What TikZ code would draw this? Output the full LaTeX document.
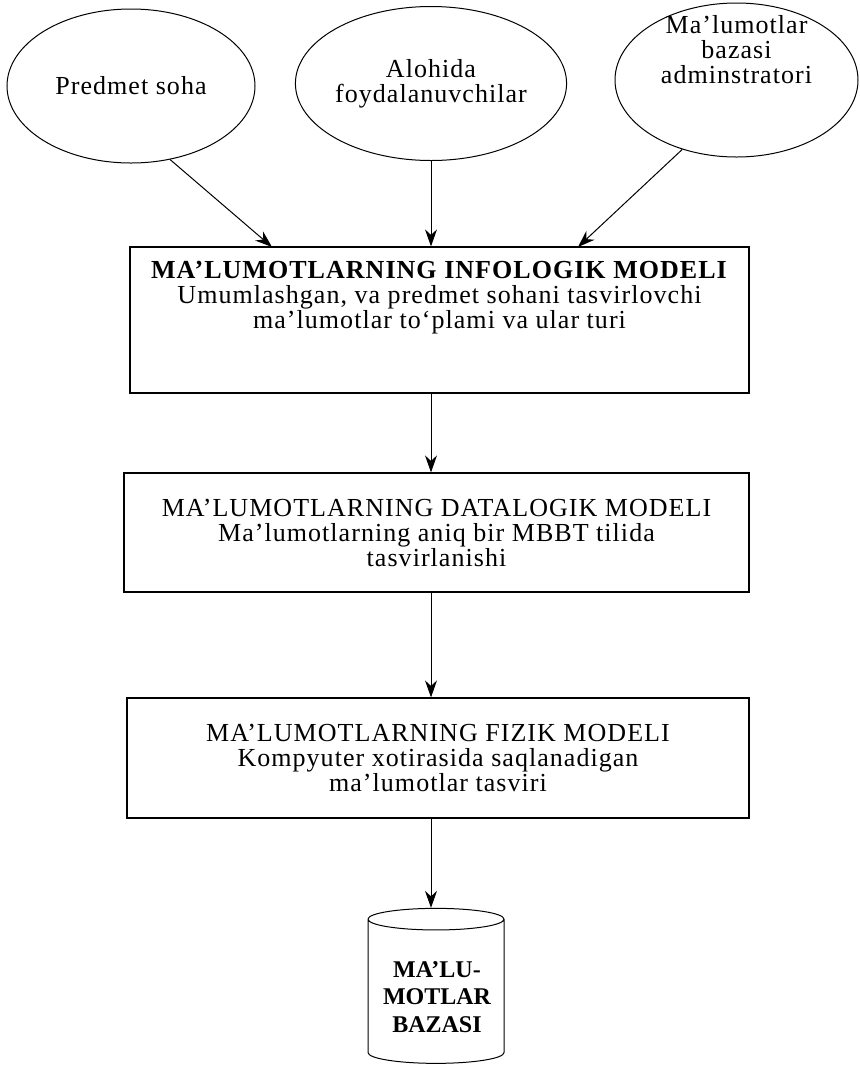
\documentclass[tikz,border=0pt]{standalone}
\usepackage{fontspec}
\setmainfont{Liberation Serif}[LetterSpace=4]
\newfontfamily\dbfont{Liberation Serif}
\usepackage{tikz}
\usetikzlibrary{arrows.meta}
\usetikzlibrary{shapes.geometric}

\begin{document}
\begin{tikzpicture}[x=0.5pt,y=-0.5pt,
	font=\fontsize{13}{12.5}\selectfont,
	oval/.style={draw,ellipse,minimum width=124pt,minimum height=77pt,inner sep=0pt,align=center,line width=0.5pt},
	modelbox/.style={draw,rectangle,align=center,inner sep=0pt,line width=0.6pt},
	dbtype/.style={font=\dbfont\fontsize{12}{13.75}\selectfont\bfseries,align=center,inner sep=0pt},
	flow/.style={-{Stealth[length=8.5pt,width=6pt]},line width=0.5pt}]
	\useasboundingbox (0,0) rectangle (859,1067);
	\node[oval] (soha) at (131,86) {Predmet soha};
	\node[oval] (users) at (431,83.5) {Alohida\\foydalanuvchilar};
	\node[oval,minimum width=121.5pt] (admin) at (736.5,80) {};
	\node[align=center,inner sep=0pt] (admintext) at (736.5,50) {Ma’lumotlar\\bazasi\\adminstratori};
	\node[modelbox,minimum width=309.5pt,minimum height=73pt] (info) at (439.5,320) {\textbf{MA’LUMOTLARNING INFOLOGIK MODELI}\\Umumlashgan, va predmet sohani tasvirlovchi\\ma’lumotlar to‘plami va ular turi\\[12.5pt]\mbox{}};
	\node[modelbox,minimum width=312.5pt,minimum height=59.5pt] (data) at (436.5,532.5) {MA’LUMOTLARNING DATALOGIK MODELI\\Ma’lumotlarning aniq bir MBBT tilida\\tasvirlanishi};
	\node[modelbox,minimum width=311pt,minimum height=60pt] (fizik) at (438,758) {MA’LUMOTLARNING FIZIK MODELI\\Kompyuter xotirasida saqlanadigan\\ma’lumotlar tasviri};
	\node[draw,cylinder,shape border rotate=90,aspect=0.2,minimum width=68pt,minimum height=77.5pt,line width=0.5pt,dbtype] (db) at (436,991.5) {\phantom{MA’LU-}\\\phantom{MOTLAR}\\\phantom{BAZASI}};
	\node[dbtype] (dbtext) at (437,997) {MA’LU-\\MOTLAR\\BAZASI};
	\coordinate (infoA) at (272,247);
	\coordinate (infoC) at (578,247);
	\draw[flow] (soha.-62) -- (infoA);
	\draw[flow] (users.south) -- (users.south |- info.north);
	\draw[flow] (admin.-128) -- (infoC);
	\draw[flow] (users.south |- info.south) -- (users.south |- data.north);
	\draw[flow] (users.south |- data.south) -- (users.south |- fizik.north);
	\draw[flow] (users.south |- fizik.south) -- (users.south |- db.north);
\end{tikzpicture}
\end{document}
